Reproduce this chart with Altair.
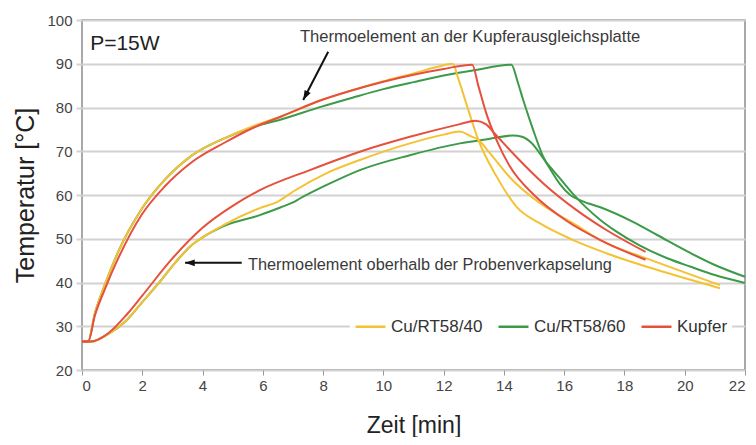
import altair as alt
import pandas as pd

FONT = "Liberation Sans, Arial, sans-serif"

SERIES = ["Cu/RT58/40", "Cu/RT58/60", "Kupfer"]
COLORS = ["#F4C234", "#3C9A48", "#E6503C"]

# Cu/RT58/60 (green)
G_UP_T = [0, 0.2, 0.43, 0.76, 1.2, 1.98, 2.75, 3.64, 4.74, 5.63, 6.63, 7.95, 9.0, 10.0, 11.0, 12.0, 13.0, 14.25,
          14.45, 14.64, 14.97, 15.3, 15.6, 15.86, 16.2, 16.6, 17.2, 18.3, 19.1, 20.2, 21.0, 22.0]
G_UP_V = [26.5, 26.5, 33, 39.5, 47, 56.8, 63.5, 69, 73, 75.4, 77.3, 80.2, 82.3, 84.2, 85.8, 87.3, 88.5, 89.8,
          86, 81.7, 74.9, 68.8, 65.2, 62.5, 60, 58.6, 57.2, 53.8, 50.8, 46.7, 44, 41.3]
G_LO_T = [0, 0.3, 0.87, 1.5, 2.0, 2.5, 3.09, 3.6, 4.0, 4.74, 5.9, 6.6, 7.0, 7.23, 8.12, 9.22, 10.88, 12.54, 13.5, 14.3,
          14.6, 14.9, 15.4, 15.86, 16.3, 16.75, 17.2, 17.7, 18.5, 19.4, 20.2, 21.0, 22.0]
G_LO_V = [26.5, 26.5, 28.2, 31.5, 35.5, 39.5, 44.5, 48.3, 50.3, 53, 55.4, 57.2, 58.3, 59.2, 62.3, 65.7, 69.1, 71.8, 72.8, 73.6,
          73.3, 72, 67.5, 63.8, 60.2, 57, 54.3, 51.8, 48.5, 45.6, 43.6, 41.7, 39.9]

# Cu/RT58/40 (yellow)
Y_UP_T = [0, 0.2, 0.43, 0.76, 1.2, 1.98, 2.75, 3.64, 4.74, 5.63, 6.63, 7.95, 9.0, 10.0, 11.0, 11.8, 12.3,
          12.5, 12.82, 13.15, 13.76, 14.42, 15.2, 16.3, 17.4, 19.07, 21.17]
Y_UP_V = [26.5, 26.5, 33, 39.5, 47, 56.8, 63.5, 69, 73, 75.6, 78, 81.7, 84, 86, 87.8, 89.3, 90,
          86.3, 79.4, 72.6, 64.2, 57.3, 53.5, 49.7, 46.7, 42.9, 38.7]
Y_LO_T = [0, 0.3, 0.87, 1.5, 2.0, 2.5, 3.09, 3.6, 4.0, 4.74, 5.9, 6.5, 7.01, 8.12, 9.22, 10.88, 12.0, 12.54,
          12.85, 13.15, 13.54, 14.2, 15.2, 16.3, 17.4, 18.73, 21.17]
Y_LO_V = [26.5, 26.5, 28.2, 31.5, 35.5, 39.5, 44.5, 48.3, 50.3, 53.3, 57, 58.5, 60.8, 65, 68, 71.8, 73.8, 74.5,
          73.6, 72.6, 69.5, 64, 58.1, 53.5, 49, 45.5, 39.4]

# Kupfer (red)
R_UP_T = [0, 0.2, 0.43, 0.76, 1.2, 1.98, 2.75, 3.64, 4.74, 5.63, 6.63, 7.95, 9.0, 10.0, 11.0, 12.0, 12.95,
          13.15, 13.4, 13.76, 14.2, 15.0, 16.1, 17.2, 18.7]
R_UP_V = [26.5, 26.5, 32.5, 38.5, 45.5, 55.5, 62, 67.5, 72, 75.2, 78, 81.7, 84, 85.9, 87.5, 88.8, 89.8,
          85, 79, 72.5, 66.5, 60, 54, 49.7, 45.2]
R_LO_T = [0, 0.3, 0.87, 1.5, 2.0, 3.0, 4.0, 5.0, 5.9, 7.56, 9.22, 10.88, 12.54, 13.05, 13.4, 13.7, 14.4, 15.3,
          16.4, 17.4, 18.7]
R_LO_V = [26.5, 26.5, 28.4, 32.8, 37, 45.5, 52.5, 57.5, 61.1, 65.7, 69.9, 73.3, 76.2, 77, 76.2, 74, 68.8, 62.7,
          56.6, 52, 47]

CURVES = [
    ("Cu/RT58/60", "g_up", G_UP_T, G_UP_V),
    ("Cu/RT58/60", "g_lo", G_LO_T, G_LO_V),
    ("Cu/RT58/40", "y_up", Y_UP_T, Y_UP_V),
    ("Cu/RT58/40", "y_lo", Y_LO_T, Y_LO_V),
    ("Kupfer", "r_up", R_UP_T, R_UP_V),
    ("Kupfer", "r_lo", R_LO_T, R_LO_V),
]

rows = []
for series, curve, ts, vs in CURVES:
    for i, (t, v) in enumerate(zip(ts, vs)):
        rows.append({"t": t, "v": v, "series": series, "curve": curve, "ord": i})
df = pd.DataFrame(rows)

# annotations
NOTE_TEXT = ["Thermoelement an der Kupferausgleichsplatte", "Thermoelement oberhalb der Probenverkapselung"]
NOTE_T = [7.23, 5.51]
NOTE_V = [96.1, 44.0]
NOTE_SIZE = [16.6, 16.3]
ARROW_T1 = [8.17, 5.3]
ARROW_V1 = [92.75, 44.5]
ARROW_T2 = [7.34, 3.42]
ARROW_V2 = [81.7, 44.5]
ARROW_ANGLE = [207.4, 270]

notes = pd.DataFrame({"t": NOTE_T, "v": NOTE_V, "txt": NOTE_TEXT, "fs": NOTE_SIZE})
arrows = pd.DataFrame({"t": ARROW_T1, "v": ARROW_V1, "t2": ARROW_T2, "v2": ARROW_V2, "ang": ARROW_ANGLE})
title_df = pd.DataFrame({"t": [0.27], "v": [94.5], "txt": ["P=15W"]})

xs = alt.Scale(domain=[0, 22], nice=False, zero=False)
ys = alt.Scale(domain=[20, 100], nice=False, zero=False)

x_axis = alt.Axis(values=list(range(0, 23, 2)), title="Zeit [min]", grid=False, domain=False,
                  ticks=True, tickSize=5, tickColor="#999999", tickWidth=1,
                  labelFont=FONT, labelFontSize=15, labelColor="#444444", labelPadding=3,
                  titleFont=FONT, titleFontSize=23, titleFontWeight="normal", titleColor="#222222",
                  titleY=55, titleBaseline="middle")
y_axis = alt.Axis(values=list(range(20, 101, 10)), title="Temperatur [°C]", grid=True,
                  gridColor="#d2d2d2", gridWidth=2, domain=False,
                  ticks=True, tickSize=6, tickColor="#d2d2d2", tickWidth=2,
                  labelFont=FONT, labelFontSize=15, labelColor="#444444", labelPadding=4,
                  titleFont=FONT, titleFontSize=25, titleFontWeight="normal", titleColor="#222222",
                  titleX=-57, titleBaseline="middle")

lines = alt.Chart(df).mark_line(strokeWidth=2, interpolate="monotone").encode(
    x=alt.X("t:Q", scale=xs, axis=x_axis),
    y=alt.Y("v:Q", scale=ys, axis=y_axis),
    color=alt.Color("series:N", scale=alt.Scale(domain=SERIES, range=COLORS),
                    legend=alt.Legend(title=None, orient="none", direction="horizontal",
                                      legendX=268, legendY=286, symbolType="stroke",
                                      symbolSize=900, symbolStrokeWidth=2.5, labelOffset=4,
                                      columnPadding=10, labelFont=FONT, labelFontSize=17,
                                      labelColor="#333333", fillColor="white", padding=4)),
    detail="curve:N",
    order="ord:Q",
)

note_text = alt.Chart(notes).mark_text(align="left", baseline="middle", font=FONT,
                                       color="#3a3a3a").encode(
    x=alt.X("t:Q", scale=xs), y=alt.Y("v:Q", scale=ys), text="txt:N",
    size=alt.Size("fs:Q", scale=None, legend=None))

p_text = alt.Chart(title_df).mark_text(align="left", baseline="middle", font=FONT, fontSize=21,
                                       color="#222222").encode(
    x=alt.X("t:Q", scale=xs), y=alt.Y("v:Q", scale=ys), text="txt:N")

arrow_lines = alt.Chart(arrows).mark_rule(strokeWidth=2, color="#111111").encode(
    x=alt.X("t:Q", scale=xs), y=alt.Y("v:Q", scale=ys), x2="t2:Q", y2="v2:Q")

arrow_heads = alt.Chart(arrows).mark_point(shape="M0,0 L-0.6,1.7 L0.6,1.7 Z", filled=True, size=130,
                                           color="#111111", opacity=1).encode(
    x=alt.X("t2:Q", scale=xs), y=alt.Y("v2:Q", scale=ys), angle=alt.Angle("ang:Q", scale=None))

chart = alt.layer(lines, note_text, p_text, arrow_lines, arrow_heads).properties(
    width=663, height=350,
    autosize=alt.AutoSizeParams(type="none"),
    padding={"left": 74, "top": 12, "right": 3, "bottom": 67},
    background="white",
).configure_view(stroke="#8c8c8c", strokeWidth=1.5)

chart.save("out.html", embed_options={"renderer": "svg", "actions": False})
